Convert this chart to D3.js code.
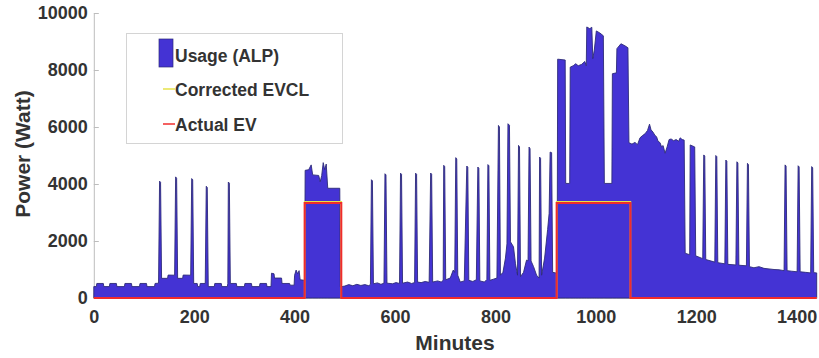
<!DOCTYPE html>
<html>
<head>
<meta charset="utf-8">
<script src="https://cdn.jsdelivr.net/npm/d3@7"></script>
<style>
  html, body { margin: 0; padding: 0; background: #fff; }
  svg { display: block; }
  text { font-family: "Liberation Sans", Arial, sans-serif; font-weight: bold; fill: #333; }
</style>
</head>
<body>
<svg id="chart" width="819" height="358"></svg>
<script>
// ---------------- DATA ----------------
const xTicks = [0, 200, 400, 600, 800, 1000, 1200, 1400];
const yTicks = [0, 2000, 4000, 6000, 8000, 10000];
const seriesNames = ["Usage (ALP)", "Corrected EVCL", "Actual EV"];

// Usage (ALP): [minute, watts]
const usage = [
  [0,400],[5,400],[6,510],[19,510],[20,400],[31,400],[32,510],[45,510],[46,400],[61,400],[62,510],[75,510],
  [76,400],[91,400],[92,510],[105,510],[106,400],[121,400],[122,510],[129,520],
  [131,4100],[133,4060],[135,690],[147,690],[148,805],[161,800],
  [163,4250],[165,4200],[167,690],[177,690],[178,805],[193,800],
  [195,4190],[197,4150],[199,510],[206,510],[207,400],[211,400],[212,510],[222,510],
  [224,3920],[226,3880],[228,400],[240,400],[241,510],[254,510],[255,400],[266,400],[267,510],
  [268,4070],[270,4030],[272,510],[284,510],[285,400],[300,400],[301,510],[314,510],[315,400],
  [330,400],[331,510],[344,510],[345,400],[353,400],[354,870],[359,850],[360,700],[374,700],
  [375,510],[390,510],[391,450],[399,450],[400,800],[403,980],[406,850],[409,960],[411,640],[420,620],
  [421,4480],[428,4500],[433,4670],[436,4320],[448,4300],[451,4080],[454,4300],[457,4750],[460,4500],
  [463,4700],[466,3850],[490,3850],[491,390],
  [500,420],[508,470],[516,430],[524,480],[532,440],[540,470],[548,430],[551,480],
  [553,4150],[555,4110],[557,500],[565,530],[572,480],[578,520],
  [580,4360],[582,4320],[584,520],[595,500],[602,540],[609,510],
  [611,4380],[613,4340],[615,520],[625,560],[633,510],[639,540],
  [641,4380],[643,4340],[645,560],[652,540],[660,580],[668,550],
  [671,4385],[673,4340],[675,560],[685,600],[692,560],[696,620],
  [697,4655],[699,4610],[701,640],[710,700],[716,980],[719,900],
  [721,4925],[723,4880],[725,800],[730,560],[738,600],
  [743,4630],[745,4590],[747,620],[755,580],[762,640],
  [765,4595],[767,4550],[769,600],[778,560],[783,650],
  [785,4680],[787,4640],[789,620],[796,660],[803,700],
  [806,6055],[808,6000],[810,800],[815,900],[820,1400],[823,1900],
  [825,6115],[828,6060],[830,1970],[836,1800],[840,1200],[844,800],
  [846,5355],[848,5300],[850,750],[856,900],[862,1330],[865,1300],
  [867,5295],[869,5240],[871,1300],[876,1100],[882,800],[887,700],
  [888,4945],[890,4900],[892,800],[898,1400],[904,2400],[907,2970],
  [909,5120],[912,5100],[914,900],[923,870],
  [924,8380],[939,8350],[940,4020],[948,4020],[949,8100],[955,8150],[960,8220],[965,8150],[972,8200],
  [978,8300],[981,8150],[982,9510],[988,9450],[992,9500],[994,8400],[997,8700],[1001,9370],[1008,9300],
  [1015,9200],[1017,4020],[1032,4020],[1033,7870],[1041,7900],[1042,8750],[1050,8920],[1058,8850],
  [1064,8780],[1066,5450],
  [1072,5400],[1078,5460],[1083,5380],[1088,5620],[1093,5700],[1098,5760],[1103,5880],[1107,6100],
  [1110,5900],[1114,5820],[1118,5700],[1121,5660],[1124,5500],[1128,5450],[1131,5300],[1134,5350],
  [1138,5080],[1142,5300],[1146,5560],[1150,5580],[1155,5520],[1160,5560],[1165,5500],[1168,5620],
  [1172,5560],[1176,5540],[1178,1570],
  [1187,1520],[1188,5370],[1197,5300],[1199,1480],[1213,1380],
  [1215,5020],[1217,4980],[1219,1350],[1237,1260],
  [1239,5000],[1241,4960],[1243,1240],[1257,1200],
  [1259,4840],[1261,4800],[1263,1180],[1279,1160],
  [1281,4780],[1283,4740],[1285,1150],[1300,1130],
  [1302,4725],[1304,4680],[1306,1100],[1315,1060],[1325,1100],[1335,1040],[1345,1020],[1355,1000],
  [1365,990],[1375,960],[1377,4670],[1379,4630],[1381,960],[1390,940],[1401,920],
  [1403,4640],[1405,4600],[1407,920],[1418,900],[1428,880],
  [1430,4610],[1432,4570],[1434,890],[1440,880]
];

// Actual EV: [minute, watts]
const actualEV = [
  [0,0],[420,0],[420,3330],[493,3330],[493,0],[922,0],[922,3330],[1069,3330],[1069,0],[1440,0]
];

// Corrected EVCL: [minute, watts]
const correctedEVCL = [
  [0,0],[420,0],[420,3380],[493,3380],[493,0],[922,0],[922,3380],[1069,3380],[1069,0],[1440,0]
];

// ---------------- CHART ----------------
const svg = d3.select("#chart");
const x = d3.scaleLinear().domain([0, 1440]).range([93.8, 816.7]);
const y = d3.scaleLinear().domain([0, 10000]).range([298, 13]);

const axisColor = "#bdbdbd";
const fmt = d3.format("d");

// Axes (under the data)
const gx = svg.append("g").attr("transform", `translate(0,${y(0)})`)
  .call(d3.axisBottom(x).tickValues(xTicks).tickFormat(fmt).tickSizeInner(-5).tickSizeOuter(0).tickPadding(12));
gx.select(".domain").attr("stroke", axisColor);
gx.selectAll(".tick line").attr("stroke", axisColor);
gx.selectAll(".tick text").style("font-size", "18px").attr("fill", "#333");

const gy = svg.append("g").attr("transform", `translate(${x(0)},0)`)
  .call(d3.axisLeft(y).tickValues(yTicks).tickFormat(fmt).tickSizeInner(-5).tickSizeOuter(0).tickPadding(6));
gy.select(".domain").attr("stroke", axisColor);
gy.selectAll(".tick line").attr("stroke", axisColor);
gy.selectAll(".tick text").style("font-size", "18px").attr("fill", "#333");

// Usage area
const area = d3.area().x(d => x(d[0])).y0(y(0)).y1(d => y(d[1]));
svg.append("path").datum(usage)
  .attr("d", area)
  .attr("fill", "#4433d4")
  .attr("stroke", "#2c2a78")
  .attr("stroke-width", 0.9)
  .attr("stroke-linejoin", "round");

const line = d3.line().x(d => x(d[0])).y(d => y(d[1]));
svg.append("path").datum(correctedEVCL)
  .attr("d", line).attr("fill", "none")
  .attr("stroke", "#e6e24a").attr("stroke-width", 1.5);
svg.append("path").datum(actualEV)
  .attr("d", line).attr("fill", "none")
  .attr("stroke", "#f02c2c").attr("stroke-width", 2);

// Axis titles
svg.append("text").attr("x", 455).attr("y", 349.5).attr("text-anchor", "middle")
  .style("font-size", "21px").text("Minutes");
svg.append("text").attr("transform", "translate(30,154) rotate(-90)").attr("text-anchor", "middle")
  .style("font-size", "21px").text("Power (Watt)");

// Legend
const lg = svg.append("g");
lg.append("rect").attr("x", 126.5).attr("y", 33.5).attr("width", 216).attr("height", 110)
  .attr("fill", "#fff").attr("stroke", "#d4d4d4").attr("stroke-width", 1);
lg.append("rect").attr("x", 159).attr("y", 39).attr("width", 14).attr("height", 28)
  .attr("fill", "#4433d4").attr("stroke", "#2c2a78").attr("stroke-width", 0.7);
lg.append("line").attr("x1", 163).attr("x2", 175).attr("y1", 89).attr("y2", 89)
  .attr("stroke", "#e6e24a").attr("stroke-width", 1.5);
lg.append("line").attr("x1", 163).attr("x2", 175).attr("y1", 124).attr("y2", 124)
  .attr("stroke", "#f02c2c").attr("stroke-width", 1.5);
const legendY = [62, 96, 131];
seriesNames.forEach((n, i) => {
  lg.append("text").attr("x", 175).attr("y", legendY[i]).style("font-size", "17.5px").text(n);
});
</script>
</body>
</html>
